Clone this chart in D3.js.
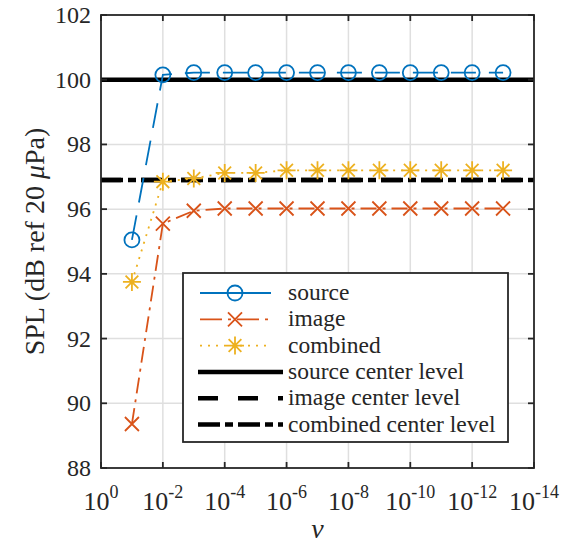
<!DOCTYPE html>
<html>
<head>
<meta charset="utf-8">
<script src="https://cdn.jsdelivr.net/npm/d3@7"></script>
</head>
<body style="margin:0">
<script>
// values
const vValues = [1e-1, 1e-2, 1e-3, 1e-4, 1e-5, 1e-6, 1e-7, 1e-8, 1e-9, 1e-10, 1e-11, 1e-12, 1e-13];
const sourceSpl = [95.05, 100.15, 100.22, 100.22, 100.22, 100.22, 100.22, 100.22, 100.22, 100.22, 100.22, 100.22, 100.22];
const imageSpl = [89.36, 95.55, 95.95, 96.02, 96.02, 96.02, 96.02, 96.02, 96.02, 96.02, 96.02, 96.02, 96.02];
const combinedSpl = [93.75, 96.85, 96.95, 97.12, 97.12, 97.2, 97.2, 97.2, 97.2, 97.2, 97.2, 97.2, 97.2];
const centerLevels = [100, 96.9, 96.9];
const xTickExps = [0, -2, -4, -6, -8, -10, -12, -14];
const yTicks = [88, 90, 92, 94, 96, 98, 100, 102];

const W = 567, H = 549;
const margin = {top: 15, right: 33, bottom: 81, left: 101};
const width = W - margin.left - margin.right;
const height = H - margin.top - margin.bottom;
const fontName = "Liberation Serif";

const svg = d3.select("body").append("svg")
    .attr("width", W)
    .attr("height", H);

const g = svg.append("g")
    .attr("transform", `translate(${margin.left}, ${margin.top})`);

const x = d3.scaleLog().domain([1, 1e-14]).range([0, width]);
const y = d3.scaleLinear().domain([88, 102]).range([height, 0]);

const xTicks = xTickExps.map(e => Math.pow(10, e));

function addText(parent, size) {
    return parent.append("text")
        .attr("font-family", fontName)
        .style("font-family", `"${fontName}"`)
        .style("font-size", size + "px")
        .attr("fill", "#262626");
}

// grid
g.append("g").selectAll("line")
    .data(xTicks.slice(1, -1))
    .enter().append("line")
    .attr("x1", d => x(d)).attr("x2", d => x(d))
    .attr("y1", 0).attr("y2", height)
    .attr("stroke", "#dfdfdf").attr("stroke-width", 1.5);
g.append("g").selectAll("line")
    .data(yTicks.slice(1, -1))
    .enter().append("line")
    .attr("x1", 0).attr("x2", width)
    .attr("y1", d => y(d)).attr("y2", d => y(d))
    .attr("stroke", "#dfdfdf").attr("stroke-width", 1.5);

const colors = {source: "#0072BD", image: "#D95319", combined: "#EDB120"};

const series = [
    {name: "source", values: sourceSpl, color: colors.source, dash: "25,13", marker: "circle"},
    {name: "image", values: imageSpl, color: colors.image, dash: "16,6,3,6", marker: "cross"},
    {name: "combined", values: combinedSpl, color: colors.combined, dash: "2,6", marker: "star"}
];

const centers = [
    {name: "source center level", value: centerLevels[0], dash: null},
    {name: "image center level", value: centerLevels[1], dash: "20,20"},
    {name: "combined center level", value: centerLevels[2], dash: "22,5,8,5"}
];

// center level lines
centers.forEach(c => {
    g.append("line")
        .attr("x1", 0).attr("x2", width)
        .attr("y1", y(c.value)).attr("y2", y(c.value))
        .attr("stroke", "#000").attr("stroke-width", 4.5)
        .attr("stroke-dasharray", c.dash);
});

function drawMarker(sel, type, color) {
    if (type === "circle") {
        sel.append("circle").attr("r", 7.5)
            .attr("fill", "none").attr("stroke", color).attr("stroke-width", 1.8);
    } else if (type === "cross") {
        const s = 7;
        sel.append("path").attr("d", `M${-s},${-s}L${s},${s}M${-s},${s}L${s},${-s}`)
            .attr("stroke", color).attr("stroke-width", 1.8).attr("fill", "none");
    } else {
        const s = 9, d = s * 0.7071;
        sel.append("path")
            .attr("d", `M${-s},0L${s},0M0,${-s}L0,${s}M${-d},${-d}L${d},${d}M${-d},${d}L${d},${-d}`)
            .attr("stroke", color).attr("stroke-width", 1.8).attr("fill", "none");
    }
}

const line = d3.line().x(d => x(d[0])).y(d => y(d[1]));

series.forEach(s => {
    const pts = vValues.map((v, i) => [v, s.values[i]]);
    g.append("path")
        .datum(pts)
        .attr("d", line)
        .attr("fill", "none")
        .attr("stroke", s.color)
        .attr("stroke-width", 1.8)
        .attr("stroke-dasharray", s.dash);
    g.append("g").selectAll("g")
        .data(pts)
        .enter().append("g")
        .attr("transform", d => `translate(${x(d[0])}, ${y(d[1])})`)
        .each(function() { drawMarker(d3.select(this), s.marker, s.color); });
});

// axes box and ticks
const axisColor = "#262626";
g.append("rect")
    .attr("width", width).attr("height", height)
    .attr("fill", "none").attr("stroke", axisColor).attr("stroke-width", 1.8);

const tl = 6;
xTicks.forEach(t => {
    g.append("line").attr("x1", x(t)).attr("x2", x(t)).attr("y1", height).attr("y2", height - tl)
        .attr("stroke", axisColor).attr("stroke-width", 1.8);
    g.append("line").attr("x1", x(t)).attr("x2", x(t)).attr("y1", 0).attr("y2", tl)
        .attr("stroke", axisColor).attr("stroke-width", 1.8);
});
yTicks.forEach(t => {
    g.append("line").attr("x1", 0).attr("x2", tl).attr("y1", y(t)).attr("y2", y(t))
        .attr("stroke", axisColor).attr("stroke-width", 1.8);
    g.append("line").attr("x1", width).attr("x2", width - tl).attr("y1", y(t)).attr("y2", y(t))
        .attr("stroke", axisColor).attr("stroke-width", 1.8);
});

// y tick labels
yTicks.forEach(t => {
    addText(g, 24)
        .attr("x", -10)
        .attr("y", y(t) + 8)
        .attr("text-anchor", "end")
        .text(t);
});

// x tick labels with superscripts
xTickExps.forEach(e => {
    const t = addText(g, 26)
        .attr("x", x(Math.pow(10, e)))
        .attr("y", height + 42)
        .attr("text-anchor", "middle");
    t.append("tspan").text("10");
    t.append("tspan").attr("dy", -12).style("font-size", "18px").text(e === 0 ? "0" : "-" + (-e));
});

// axis labels
addText(g, 28)
    .attr("x", width / 2)
    .attr("y", height + 70)
    .attr("text-anchor", "middle")
    .style("font-style", "italic")
    .text("v");

const yl = addText(svg, 28)
    .attr("transform", `translate(44, ${margin.top + height / 2}) rotate(-90)`)
    .attr("text-anchor", "middle");
yl.append("tspan").text("SPL (dB ref 20 ");
yl.append("tspan").style("font-style", "italic").text("\u03bc");
yl.append("tspan").text("Pa)");

// legend
const lg = svg.append("g").attr("transform", "translate(183, 273)");
lg.append("rect")
    .attr("width", 325).attr("height", 169)
    .attr("fill", "#fff").attr("stroke", axisColor).attr("stroke-width", 1.8);

const rowH = 26.3;
const rowY0 = 20;
series.forEach((s, i) => {
    const ry = rowY0 + i * rowH;
    lg.append("line").attr("x1", 17).attr("x2", 88).attr("y1", ry).attr("y2", ry)
        .attr("stroke", s.color).attr("stroke-width", 1.8)
        .attr("stroke-dasharray", i === 0 ? null : (i === 1 ? "22,6,3,6" : s.dash));
    const m = lg.append("g").attr("transform", `translate(52, ${ry})`);
    drawMarker(m, s.marker, s.color);
    addText(lg, 23.5).attr("x", 105).attr("y", ry + 7).text(s.name);
});
centers.forEach((c, i) => {
    const ry = rowY0 + (i + 3) * rowH;
    lg.append("line").attr("x1", 15).attr("x2", 100).attr("y1", ry).attr("y2", ry)
        .attr("stroke", "#000").attr("stroke-width", 4.5).attr("stroke-dasharray", c.dash);
    addText(lg, 23.5).attr("x", 105).attr("y", ry + 7).text(c.name);
});
</script>
</body>
</html>
